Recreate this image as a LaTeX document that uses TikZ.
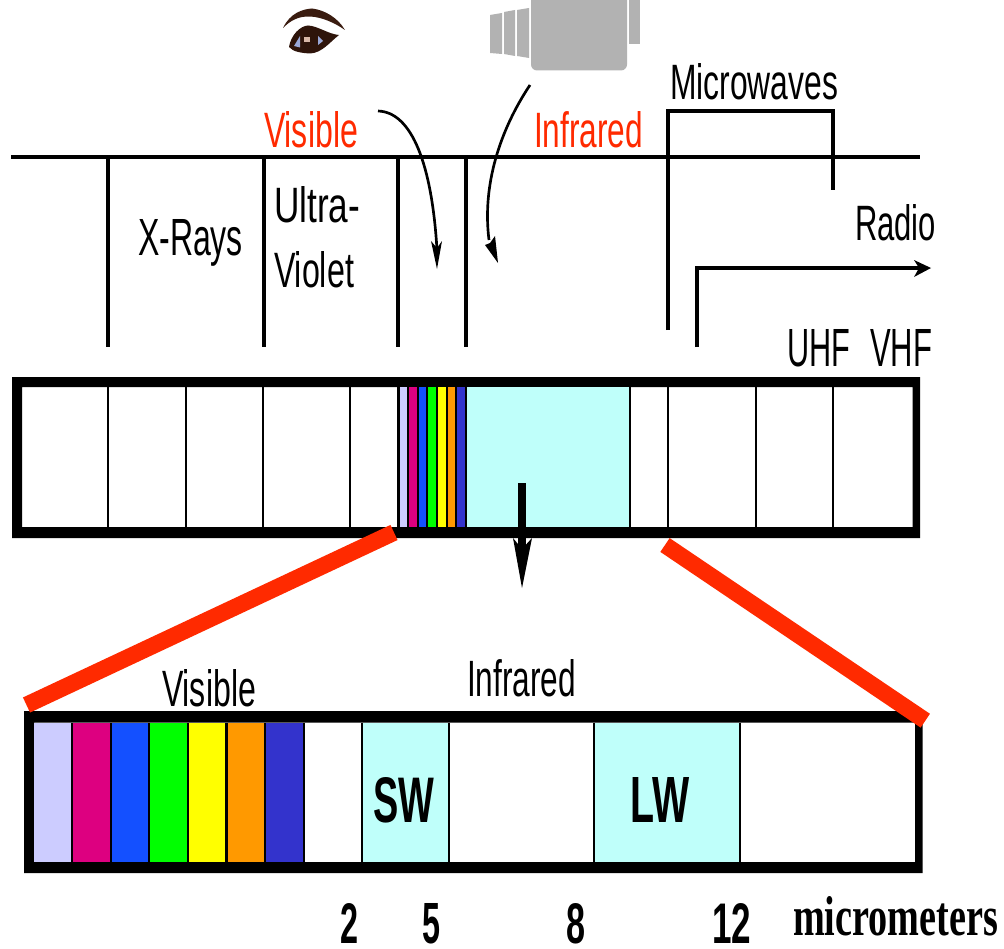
\documentclass[tikz,border=0pt]{standalone}
\usepackage{fontspec}
\usepackage{graphicx}
\setmainfont{Liberation Sans}
\newfontfamily\serifbf{Liberation Serif}[Ligatures=TeX]
\newlength\pxu \setlength\pxu{0.75pt}
\newcommand\fitbox[3]{\resizebox{#1\pxu}{#2\pxu}{#3}}
\definecolor{cyanbg}{HTML}{BFFFFA}
\definecolor{redlab}{HTML}{FF2A00}
\definecolor{sp1}{HTML}{CCCCFF}
\definecolor{sp2}{HTML}{DD0080}
\definecolor{sp3}{HTML}{1450FF}
\definecolor{sp4}{HTML}{00FF00}
\definecolor{sp5}{HTML}{FFFF00}
\definecolor{sp6}{HTML}{FF9900}
\definecolor{sp7}{HTML}{3333CC}
\definecolor{camgrey}{HTML}{B2B2B2}
\definecolor{browcol}{HTML}{3A1C10}
\definecolor{eyecol}{HTML}{2E140A}
\definecolor{eyeblue}{HTML}{9AA8D8}
\definecolor{eyelight}{HTML}{D8B8A8}
\tikzset{
  lab/.style={inner sep=0pt,outer sep=0pt,anchor=base west,text=black},
  redtext/.style={lab,text=redlab},
  rulingh/.style={draw=black,line width=2.6pt,line cap=butt},
  ruling/.style={draw=black,line width=3.2pt,line cap=butt,miter limit=10},
  divider/.style={draw=black,line width=1.5pt},
  redbar/.style={draw=redlab,line width=12.5pt},
  thinhead/.style={draw=black,line width=2pt},
}
\begin{document}
\begin{tikzpicture}[x=0.75pt,y=-0.75pt]
\useasboundingbox (0,0) rectangle (1004,949);
% camera
\fill[camgrey,rounded corners=4.5pt] (531,-10) rectangle (627,70.5);
\fill[camgrey] (629,0) rectangle (640,44);
\fill[camgrey] (490,15) -- (502,13) -- (502,54) -- (490,53) -- cycle;
\fill[camgrey] (504,12) -- (515,10) -- (515,56) -- (504,54) -- cycle;
\fill[camgrey] (517,10) -- (529,8) -- (529,58) -- (517,56) -- cycle;
% eye
\fill[browcol] (283,28) .. controls (290,13) and (303,9) .. (312,8.5) .. controls (325,10) and (338,18) .. (345,30) .. controls (335,23) and (322,17) .. (310,16.5) .. controls (298,16) and (290,21) .. (283,28) -- cycle;
\fill[eyecol] (289,47) .. controls (291,35) and (300,26) .. (308,25.5) .. controls (318,26) and (328,34) .. (339,35) .. controls (330,42) and (322,53) .. (310,53.5) .. controls (302,53) and (293,52) .. (289,47) -- cycle;
\fill[eyeblue] (294,46) -- (300,36) -- (300,47.5) -- cycle;
\fill[eyeblue] (318,36) -- (323,41) -- (318,45) -- cycle;
\fill[eyelight] (304,37) rectangle (310,42);
% top rulings
\coordinate (topL) at (11,157); \coordinate (topR) at (920,157);
\draw[rulingh] (topL) -- (topR);
\draw[ruling] (108,157) -- (108,347);
\draw[ruling] (264,157) -- (264,347);
\draw[ruling] (398,157) -- (398,347);
\draw[ruling] (466,157) -- (466,347);
\draw[ruling] (668,330) -- (668,111) -- (833,111) -- (833,190);
\draw[ruling] (697,347) -- (697,268) -- (922,268);
\fill (914,260) -- (931,268) -- (914,277) -- (919,268) -- cycle;
% curved arrows
\draw[thinhead] (378,111) .. controls (412,112) and (432,165) .. (437,250);
\fill (431,241) -- (437,269) -- (442,241) -- (437,248) -- cycle;
\draw[thinhead] (530,85) .. controls (500,130) and (482,185) .. (489,240);
\fill (485,245) -- (498,263) -- (495,236) -- (490,243) -- cycle;
% upper bar
\fill[black,even odd rule] (12,377) rectangle (920,538) (22,387) rectangle (912.7,527);
\fill[cyanbg] (466,387) rectangle (630,527);
\fill[black] (397,387) rectangle (466.5,527);
\fill[sp1] (399.5,387) rectangle (406.7,527);
\fill[sp2] (409,387) rectangle (416.7,527);
\fill[sp3] (418.7,387) rectangle (426.3,527);
\fill[sp4] (428.3,387) rectangle (436,527);
\fill[sp5] (438,387) rectangle (445.7,527);
\fill[sp6] (447.7,387) rectangle (455.3,527);
\fill[sp7] (457,387) rectangle (465.3,527);
\foreach \xx in {108,186,263,350,630,668,756,833}
  \draw[divider] (\xx,387) -- (\xx,527);
% down arrow
\fill (518.3,483) rectangle (525.7,550);
\fill (513,538) -- (522,588) -- (532,538) -- (522,549) -- cycle;
% lower bar
\fill[black,even odd rule] (24,711) rectangle (922.7,873) (34,722.5) rectangle (915,862);
\fill[cyanbg] (362,722.5) rectangle (449,862);
\fill[cyanbg] (594,722.5) rectangle (740,862);
\fill[black] (34,722.5) rectangle (304.5,862);
\fill[sp1] (34.3,722.5) rectangle (71,862);
\fill[sp2] (73,722.5) rectangle (110,862);
\fill[sp3] (111.7,722.5) rectangle (148,862);
\fill[sp4] (150,722.5) rectangle (187,862);
\fill[sp5] (189,722.5) rectangle (225.3,862);
\fill[sp6] (228,722.5) rectangle (264.3,862);
\fill[sp7] (266.3,722.5) rectangle (302.7,862);
\foreach \xx in {362,449,594,740}
  \draw[divider] (\xx,722.5) -- (\xx,862);
% red lines
\draw[redbar] (394,532.5) -- (26.5,705);
\draw[redbar] (665,545) -- (925.3,720.7);
% labels
\node[redtext] (visTop) at (264,147) {\fitbox{94}{36}{Visible}};
\node[redtext] (irTop) at (534,147) {\fitbox{109}{36}{Infrared}};
\node[lab] (micro) at (670,99) {\fitbox{168}{36}{Microwaves}};
\node[lab] (xrays) at (138,255) {\fitbox{105}{36}{X-Rays}};
\node[lab] (ultra) at (274,222) {\fitbox{86}{36}{Ultra-}};
\node[lab] (violet) at (274,287) {\fitbox{80}{36}{Violet}};
\node[lab] (radio) at (855,240.7) {\fitbox{81}{36}{Radio}};
\node[lab] (uhf) at (787,366.7) {\fitbox{63}{37}{UHF}};
\node[lab] (vhf) at (870,366.7) {\fitbox{62}{37}{VHF}};
\node[lab] (visLow) at (162,706.5) {\fitbox{94}{37}{Visible}};
\node[lab] (irLow) at (467,696) {\fitbox{109}{37}{Infrared}};
\node[lab] (sw) at (373,822) {\fitbox{61}{45}{\bfseries SW}};
\node[lab] (lw) at (630.7,822) {\fitbox{59}{45}{\bfseries LW}};
\node[lab] (n2) at (340,943) {\fitbox{18}{40}{\bfseries 2}};
\node[lab] (n5) at (422.7,943) {\fitbox{18}{40}{\bfseries 5}};
\node[lab] (n8) at (566,943) {\fitbox{19}{40}{\bfseries 8}};
\node[lab] (n12) at (712,943) {\fitbox{39}{40}{\bfseries 12}};
\node[lab] (micm) at (793,935) {\fitbox{205}{39}{\serifbf\bfseries micrometers}};
\end{tikzpicture}
\end{document}
